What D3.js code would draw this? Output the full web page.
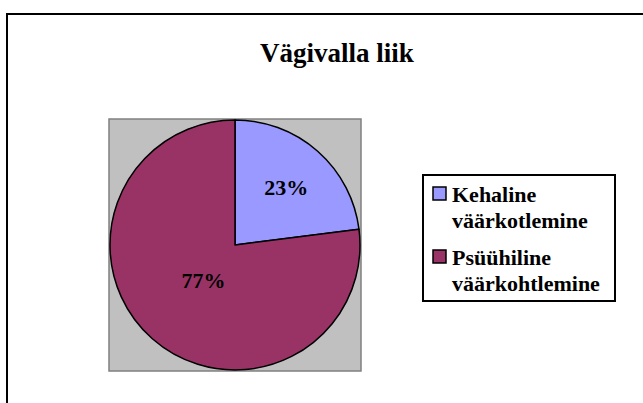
<!DOCTYPE html>
<html lang="et">
<head>
    <meta charset="UTF-8">
    <title>Vägivalla liik</title>
    <script src="https://d3js.org/d3.v7.min.js"></script>
    <style>
        body { margin: 0; background: #fff; }
    </style>
</head>
<body>
    <svg id="chart" width="643" height="403"></svg>

    <script>
        // data
        const categories = ["Kehaline väärkotlemine", "Psüühiline väärkohtlemine"];
        const legendLines = [["Kehaline", "väärkotlemine"], ["Psüühiline", "väärkohtlemine"]];
        const values = [23, 77];
        const colors = ["#9999FF", "#993366"];
        const title = "Vägivalla liik";

        const FONT = "Liberation Serif, DejaVu Serif, serif";

        const svg = d3.select("#chart")
            .attr("font-family", FONT)
            .attr("font-weight", "bold");

        // outer chart border (runs off right and bottom)
        svg.append("rect")
            .attr("x", 7).attr("y", 14)
            .attr("width", 700).attr("height", 450)
            .attr("fill", "none")
            .attr("stroke", "#000")
            .attr("stroke-width", 2);

        svg.append("text")
            .attr("x", 337).attr("y", 62)
            .attr("text-anchor", "middle")
            .attr("font-family", FONT)
            .attr("font-size", 27)
            .text(title);

        // plot area
        const cx = 235, cy = 245, R = 125;
        svg.append("rect")
            .attr("x", cx - R - 1).attr("y", cy - R - 1)
            .attr("width", 2 * R + 2).attr("height", 2 * R + 2)
            .attr("fill", "#C0C0C0")
            .attr("stroke", "#808080")
            .attr("stroke-width", 1.5);

        const pie = d3.pie().sort(null).value(d => d);
        const arcs = pie(values);
        const arc = d3.arc().innerRadius(0).outerRadius(R);

        const g = svg.append("g").attr("transform", `translate(${cx},${cy})`);
        g.selectAll("path.slice")
            .data(arcs)
            .enter().append("path")
            .attr("class", "slice")
            .attr("d", arc)
            .attr("fill", (d, i) => colors[i])
            .attr("stroke", "#000")
            .attr("stroke-width", 1.5)
            .attr("stroke-linejoin", "round");

        const total = d3.sum(values);
        g.selectAll("text.pct")
            .data(arcs)
            .enter().append("text")
            .attr("class", "pct")
            .attr("transform", d => {
                const k = (d.endAngle - d.startAngle) < Math.PI ? 0.62 : 0.38;
                const c = d3.arc().innerRadius(R * k).outerRadius(R * k).centroid(d);
                return `translate(${c[0]},${c[1]})`;
            })
            .attr("text-anchor", "middle")
            .attr("dy", "0.35em")
            .attr("font-family", FONT)
            .attr("font-size", 22)
            .text(d => Math.round(d.data / total * 100) + "%");

        // legend
        const lg = svg.append("g").attr("transform", "translate(423,175)");
        lg.append("rect")
            .attr("width", 192).attr("height", 126)
            .attr("fill", "#fff")
            .attr("stroke", "#000")
            .attr("stroke-width", 2);

        const item = lg.selectAll("g.item")
            .data(categories)
            .enter().append("g")
            .attr("class", "item")
            .attr("transform", (d, i) => `translate(0,${i * 63})`);

        item.append("rect")
            .attr("x", 10).attr("y", 12)
            .attr("width", 13).attr("height", 13)
            .attr("fill", (d, i) => colors[i])
            .attr("stroke", "#000")
            .attr("stroke-width", 1.5);

        item.each(function(d, i) {
            d3.select(this).selectAll("text")
                .data(legendLines[i])
                .enter().append("text")
                .attr("x", 29)
                .attr("y", (t, j) => 27 + j * 26)
                .attr("font-family", FONT)
                .attr("font-size", 22)
                .text(t => t);
        });
    </script>
</body>
</html>
